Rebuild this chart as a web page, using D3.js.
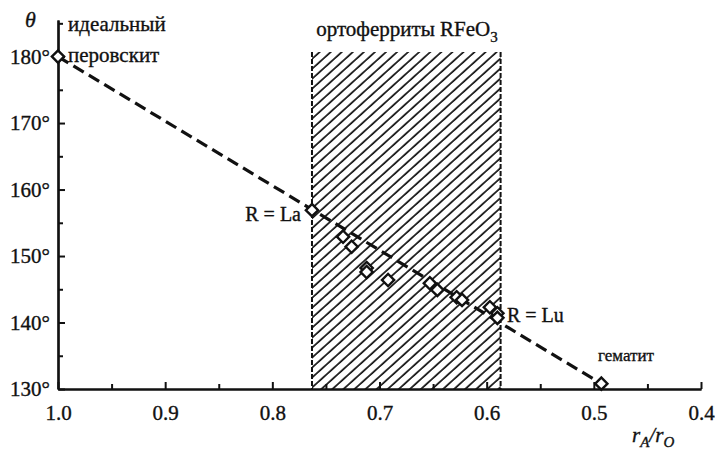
<!DOCTYPE html>
<html>
<head>
<meta charset="utf-8">
<script src="https://cdn.jsdelivr.net/npm/d3@7"></script>
<style>
  body { margin: 0; background: #fff; }
  svg { display: block; font-family: 'Liberation Serif', 'DejaVu Serif', serif; }
  text { stroke: #111; stroke-width: 0.35px; }
</style>
</head>
<body>
<svg id="vis" width="715" height="450"></svg>
<script>
// data
var ratio = [1.0, 0.763, 0.734, 0.726, 0.712, 0.712, 0.692, 0.653, 0.646, 0.628, 0.623, 0.597, 0.590, 0.590, 0.493];
var theta = [180, 156.9, 152.9, 151.4, 148.2, 147.6, 146.4, 145.9, 144.9, 143.8, 143.4, 142.3, 141.4, 140.7, 130.8];
var orthoRange = [0.763, 0.587];
var xTicks = [1.0, 0.9, 0.8, 0.7, 0.6, 0.5, 0.4];
var xMinor = [0.95, 0.85, 0.75, 0.65, 0.55, 0.45];
var yTicks = [130, 140, 150, 160, 170, 180];
var yMinor = [135, 145, 155, 165, 175, 185];

var serif = "'Liberation Serif', 'DejaVu Serif', serif";
var svg = d3.select("#vis");

var x = d3.scaleLinear().domain([1.0, 0.4]).range([58, 701]);
var y = d3.scaleLinear().domain([130, 185.5]).range([389, 20]);

// hatch pattern
svg.append("defs").append("pattern")
    .attr("id", "hatch")
    .attr("patternUnits", "userSpaceOnUse")
    .attr("width", 7.4)
    .attr("height", 20)
    .attr("patternTransform", "rotate(48)")
    .append("line")
    .attr("x1", 1).attr("x2", 1)
    .attr("y1", 0).attr("y2", 20)
    .attr("stroke", "#111")
    .attr("stroke-width", 1.7);

var hatchTop = 52;
svg.append("rect")
    .attr("x", x(orthoRange[0]))
    .attr("y", hatchTop)
    .attr("width", x(orthoRange[1]) - x(orthoRange[0]))
    .attr("height", y(130) - hatchTop)
    .attr("fill", "url(#hatch)");

orthoRange.forEach(function (v) {
    svg.append("line")
        .attr("x1", x(v)).attr("x2", x(v))
        .attr("y1", hatchTop).attr("y2", y(130))
        .attr("stroke", "#111")
        .attr("stroke-width", 2)
        .attr("stroke-dasharray", "5,2");
});

// axes
var xAxis = d3.axisBottom(x).tickValues(xTicks).tickFormat(d3.format(".1f"))
    .tickSizeInner(-7).tickSizeOuter(0).tickPadding(16);
var xAxisMinor = d3.axisBottom(x).tickValues(xMinor).tickFormat("")
    .tickSizeInner(-5).tickSizeOuter(0);
var yAxis = d3.axisLeft(y).tickValues(yTicks).tickFormat(function (d) { return d + "°"; })
    .tickSizeInner(-7).tickSizeOuter(0).tickPadding(8);
var yAxisMinor = d3.axisLeft(y).tickValues(yMinor).tickFormat("")
    .tickSizeInner(-5).tickSizeOuter(0);

[[xAxis, "translate(0," + y(130) + ")"], [xAxisMinor, "translate(0," + y(130) + ")"],
 [yAxis, "translate(" + x(1.0) + ",0)"], [yAxisMinor, "translate(" + x(1.0) + ",0)"]].forEach(function (a) {
    var g = svg.append("g").attr("transform", a[1]).call(a[0])
        .attr("font-family", serif).attr("font-size", 21);
    g.select(".domain").attr("stroke", "#111").attr("stroke-width", 2.2);
    g.selectAll(".tick line").attr("stroke", "#111").attr("stroke-width", 2);
    g.selectAll("text").attr("fill", "#111");
});

// dashed trend line
var line = d3.line().x(function (d) { return x(d[0]); }).y(function (d) { return y(d[1]); });
svg.append("path")
    .attr("d", line([[ratio[0], theta[0]], [ratio[ratio.length - 1], theta[theta.length - 1]]]))
    .attr("fill", "none")
    .attr("stroke", "#111")
    .attr("stroke-width", 3.2)
    .attr("stroke-dasharray", "12,6");

// diamond markers
svg.selectAll("path.pt")
    .data(ratio)
    .enter()
    .append("path")
    .attr("class", "pt")
    .attr("d", d3.symbol().type(d3.symbolSquare).size(75))
    .attr("transform", function (d, i) { return "translate(" + x(d) + "," + y(theta[i]) + ") rotate(45)"; })
    .attr("fill", "#fff")
    .attr("stroke", "#111")
    .attr("stroke-width", 2.4);

// labels
function label(tx, ty, str, size, anchor) {
    return svg.append("text")
        .attr("x", tx).attr("y", ty)
        .attr("text-anchor", anchor || "start")
        .attr("font-family", serif)
        .style("font-size", size + "px")
        .attr("fill", "#111")
        .text(str);
}
label(68, 31, "идеальный", 21);
label(68, 62, "перовскит", 21);
label(301, 221, "R = La", 20, "end");
label(507, 322, "R = Lu", 20);
label(598, 361, "гематит", 17);

var orth = label(407, 36, "ортоферриты RFeO", 21, "middle");
orth.append("tspan").attr("dy", 6).style("font-size", "15px").text("3");

label(25, 27, "θ", 22).style("font-style", "italic");

var rl = label(632, 442, "", 21).style("font-style", "italic");
rl.append("tspan").text("r");
rl.append("tspan").attr("dy", 5).style("font-size", "15px").text("A");
rl.append("tspan").attr("dy", -5).text("/r");
rl.append("tspan").attr("dy", 5).style("font-size", "15px").text("O");
</script>
</body>
</html>
